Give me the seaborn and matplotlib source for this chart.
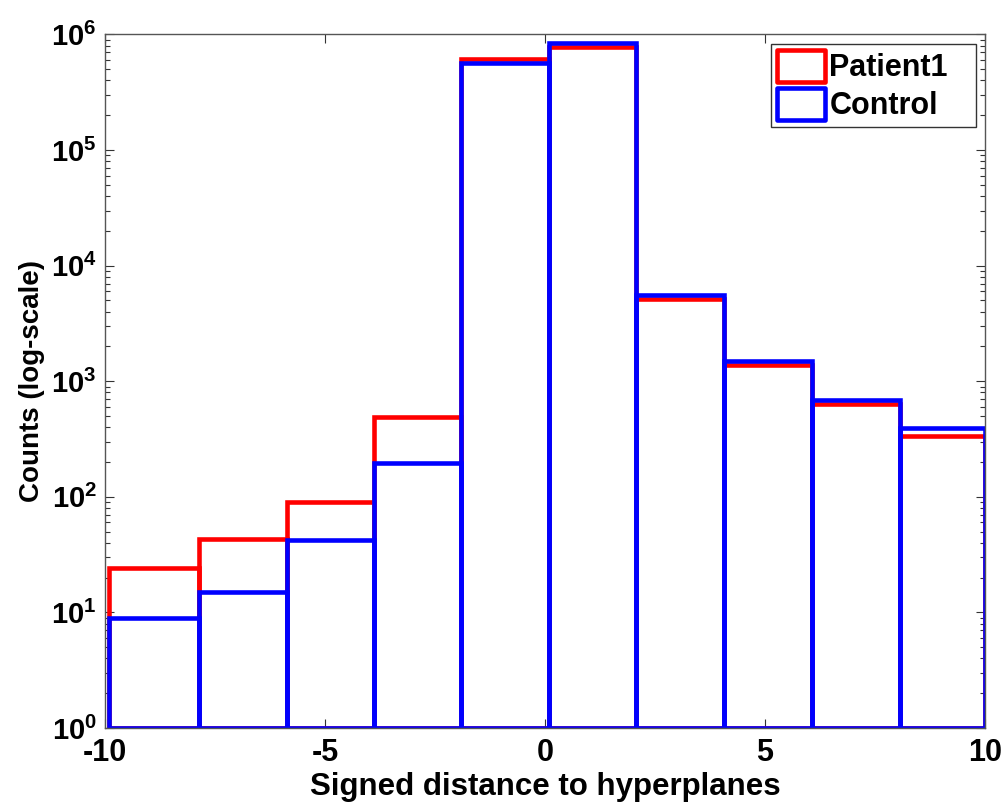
import numpy as np
import pandas as pd
import matplotlib
matplotlib.use("Agg")
import matplotlib.pyplot as plt
import seaborn as sns

# bin edges (10 bins)
bin_edges = [-9.9, -7.86, -5.87, -3.89, -1.9, 0.08, 2.07, 4.07, 6.07, 8.07, 10.0]

# counts per bin
patient_counts = [24, 43, 91, 490, 617000, 773000, 5140, 1380, 635, 336]
control_counts = [9, 15, 42, 197, 571000, 847000, 5570, 1490, 688, 394]

x_ticks = [-10, -5, 0, 5, 10]
x_tick_labels = ["-10", "-5", "0", "5", "10"]
y_ticks = [1, 10, 100, 1000, 10000, 100000, 1000000]
y_tick_labels = [r"$\mathbf{10^{%d}}$" % i for i in range(7)]

sns.set_style("ticks")
plt.rcParams["font.family"] = ["Liberation Sans", "DejaVu Sans"]
plt.rcParams["font.weight"] = "bold"
plt.rcParams["mathtext.fontset"] = "custom"
plt.rcParams["mathtext.bf"] = "Liberation Sans:bold"
plt.rcParams["mathtext.rm"] = "Liberation Sans:bold"
plt.rcParams["text.color"] = "black"
plt.rcParams["axes.labelcolor"] = "black"
plt.rcParams["xtick.color"] = "black"
plt.rcParams["ytick.color"] = "black"

edges = np.array(bin_edges)
centers = (edges[:-1] + edges[1:]) / 2
patient = pd.DataFrame({"center": centers, "count": patient_counts})
control = pd.DataFrame({"center": centers, "count": control_counts})

fig = plt.figure(figsize=(10.03, 8.06), dpi=100)
ax = fig.add_axes([0.1047, 0.0968, 0.8774, 0.8604])
ax.set_yscale("log")

sns.histplot(data=patient, x="center", weights="count", bins=bin_edges, fill=False,
             color="#ff0000", linewidth=3.3, label="Patient1", ax=ax)
sns.histplot(data=control, x="center", weights="count", bins=bin_edges, fill=False,
             color="#0000ff", linewidth=3.3, label="Control", ax=ax)

# MATLAB style bars start at 10^0 so the bottom edge shows
for p in ax.patches:
    h = p.get_height()
    p.set_y(1)
    p.set_height(h - 1)

ax.set_xlim(-10, 10)
ax.set_ylim(1, 1e6)
ax.set_xticks(x_ticks)
ax.set_xticklabels(x_tick_labels, fontsize=22, fontweight="bold")
ax.set_yticks(y_ticks)
ax.set_yticklabels(y_tick_labels, fontsize=21)

ax.tick_params(axis="both", which="both", direction="in", top=True, right=True,
               color="#333333")
ax.tick_params(axis="both", which="major", length=6.5, width=0.8)
ax.tick_params(axis="y", which="minor", length=3.6, width=0.8)
ax.tick_params(axis="x", which="major", pad=7)
ax.tick_params(axis="y", which="major", pad=6)
ax.tick_params(axis="x", which="minor", bottom=False, top=False)
for s in ax.spines.values():
    s.set_color("#555555")
    s.set_linewidth(1.0)
    s.set_visible(True)

ax.set_xlabel("Signed distance to hyperplanes", fontsize=22.5, fontweight="bold", labelpad=3)
ax.set_ylabel("Counts (log-scale)", fontsize=20, fontweight="bold", labelpad=4)

leg = ax.legend(loc="upper left", bbox_to_anchor=(0.757, 0.864, 0.233, 0.122),
                mode="expand", borderaxespad=0,
                fontsize=22, frameon=True, fancybox=False, edgecolor="black",
                handlelength=1.55, handleheight=1.22, handletextpad=0.15,
                labelspacing=0.15, borderpad=0.2)
leg.get_frame().set_linewidth(1.0)
for t in leg.get_texts():
    t.set_fontweight("bold")
for h in leg.legend_handles:
    h.set_joinstyle("round")

fig.savefig("out.png", dpi=100)
